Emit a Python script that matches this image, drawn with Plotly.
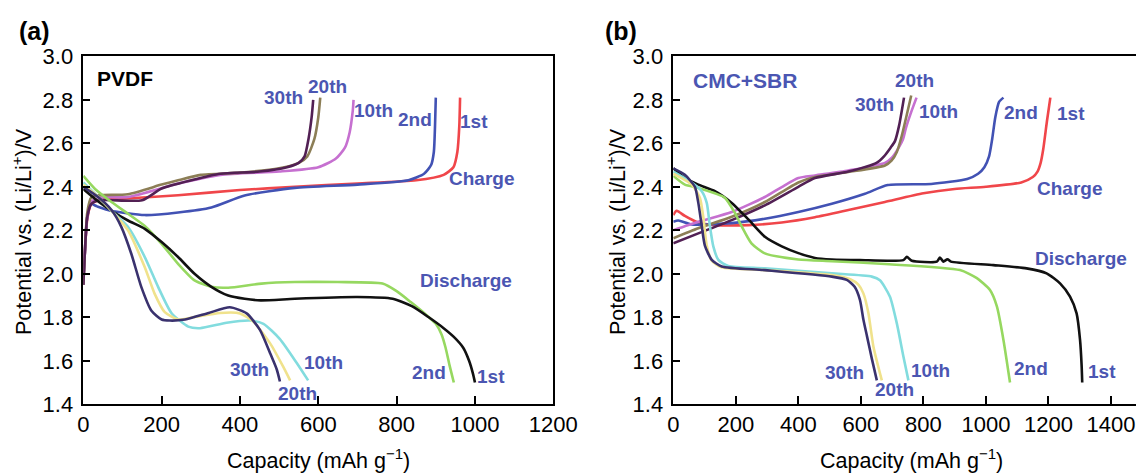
import plotly.graph_objects as go

# ---------------- Panel (a) PVDF : charge curves ----------------
a_c1_cap = [0, 4, 10, 20, 40, 100, 242, 400, 540, 700, 850, 920, 945, 955, 960, 962]
a_c1_v   = [1.95, 2.10, 2.25, 2.32, 2.338, 2.345, 2.361, 2.385, 2.40, 2.415, 2.43, 2.455, 2.49, 2.56, 2.68, 2.81]
a_c2_cap = [0, 4, 10, 20, 35, 70, 157, 242, 327, 412, 540, 700, 830, 870, 888, 895, 898, 900]
a_c2_v   = [1.95, 2.10, 2.26, 2.32, 2.31, 2.29, 2.27, 2.282, 2.305, 2.36, 2.395, 2.41, 2.43, 2.46, 2.50, 2.56, 2.68, 2.81]
a_c10_cap = [0, 4, 10, 20, 40, 114, 242, 350, 500, 600, 645, 668, 680, 688, 690]
a_c10_v   = [1.95, 2.10, 2.26, 2.33, 2.35, 2.353, 2.415, 2.455, 2.47, 2.49, 2.53, 2.58, 2.65, 2.75, 2.80]
a_c20_cap = [0, 4, 10, 20, 40, 114, 200, 242, 300, 400, 500, 550, 572, 590, 600, 605]
a_c20_v   = [1.95, 2.10, 2.28, 2.35, 2.361, 2.366, 2.41, 2.43, 2.455, 2.465, 2.485, 2.51, 2.54, 2.62, 2.72, 2.81]
a_c30_cap = [0, 4, 10, 20, 40, 150, 200, 276, 350, 450, 520, 550, 565, 575, 583, 587]
a_c30_v   = [1.95, 2.10, 2.26, 2.32, 2.338, 2.338, 2.392, 2.43, 2.46, 2.47, 2.49, 2.51, 2.54, 2.62, 2.72, 2.80]

# ---------------- Panel (a) PVDF : discharge curves ----------------
a_d1_cap = [0, 40, 72, 114, 157, 200, 242, 284, 327, 370, 412, 453, 540, 700, 790, 840, 882, 920, 946, 970, 985, 995, 1000]
a_d1_v   = [2.39, 2.33, 2.29, 2.245, 2.207, 2.146, 2.077, 2.0, 1.94, 1.90, 1.885, 1.878, 1.885, 1.893, 1.885, 1.85, 1.80, 1.75, 1.71, 1.66, 1.60, 1.54, 1.50]
a_d2_cap = [0, 30, 72, 114, 157, 200, 242, 284, 327, 370, 455, 540, 650, 764, 800, 836, 870, 900, 915, 925, 935, 946]
a_d2_v   = [2.45, 2.39, 2.33, 2.276, 2.22, 2.138, 2.046, 1.97, 1.94, 1.936, 1.955, 1.962, 1.962, 1.955, 1.92, 1.87, 1.82, 1.77, 1.72, 1.66, 1.58, 1.50]
a_d10_cap = [0, 40, 72, 114, 157, 191, 225, 268, 298, 366, 426, 460, 502, 545, 574]
a_d10_v   = [2.42, 2.35, 2.29, 2.216, 2.077, 1.94, 1.82, 1.757, 1.75, 1.775, 1.785, 1.77, 1.70, 1.59, 1.51]
a_d20_cap = [0, 40, 72, 114, 157, 182, 208, 242, 281, 349, 400, 434, 477, 510, 528]
a_d20_v   = [2.41, 2.35, 2.29, 2.20, 2.03, 1.909, 1.824, 1.79, 1.80, 1.82, 1.818, 1.78, 1.68, 1.574, 1.51]
a_d30_cap = [0, 37, 72, 97, 123, 148, 174, 200, 221, 260, 320, 374, 417, 451, 477, 494, 502]
a_d30_v   = [2.40, 2.354, 2.293, 2.216, 2.09, 1.94, 1.83, 1.79, 1.785, 1.79, 1.82, 1.846, 1.818, 1.742, 1.635, 1.56, 1.505]

# ---------------- Panel (b) CMC+SBR : charge curves ----------------
b_c1_cap = [0, 10, 20, 37, 80, 133, 240, 347, 453, 560, 677, 800, 900, 1000, 1113, 1150, 1165, 1175, 1183, 1195, 1206]
b_c1_v   = [2.27, 2.29, 2.283, 2.266, 2.236, 2.224, 2.224, 2.236, 2.26, 2.293, 2.33, 2.37, 2.39, 2.40, 2.42, 2.445, 2.47, 2.51, 2.57, 2.70, 2.81]
b_c2_cap = [0, 16, 59, 187, 293, 400, 507, 613, 686, 825, 940, 975, 995, 1010, 1020, 1030, 1042, 1056]
b_c2_v   = [2.239, 2.245, 2.227, 2.233, 2.253, 2.284, 2.322, 2.368, 2.408, 2.413, 2.436, 2.46, 2.49, 2.54, 2.62, 2.72, 2.79, 2.81]
b_c10_cap = [0, 80, 187, 293, 347, 400, 453, 560, 677, 700, 721, 735, 744, 760, 778]
b_c10_v   = [2.20, 2.239, 2.284, 2.353, 2.399, 2.44, 2.452, 2.475, 2.51, 2.535, 2.58, 2.62, 2.67, 2.74, 2.81]
b_c20_cap = [0, 80, 187, 293, 400, 453, 560, 677, 698, 715, 730, 745, 761]
b_c20_v   = [2.163, 2.209, 2.262, 2.33, 2.42, 2.445, 2.468, 2.498, 2.52, 2.56, 2.63, 2.72, 2.82]
b_c30_cap = [0, 80, 187, 293, 400, 453, 560, 650, 674, 695, 709, 722, 738]
b_c30_v   = [2.14, 2.186, 2.247, 2.315, 2.40, 2.44, 2.47, 2.51, 2.54, 2.58, 2.61, 2.68, 2.81]

# ---------------- Panel (b) CMC+SBR : discharge curves ----------------
b_d1_cap = [0, 37, 80, 133, 187, 240, 293, 347, 400, 453, 507, 597, 736, 747, 763, 843, 853, 864, 877, 888, 1024, 1130, 1194, 1237, 1269, 1290, 1301, 1306, 1308]
b_d1_v   = [2.485, 2.44, 2.41, 2.38, 2.326, 2.25, 2.17, 2.126, 2.095, 2.073, 2.066, 2.063, 2.063, 2.078, 2.06, 2.056, 2.075, 2.056, 2.067, 2.056, 2.04, 2.025, 2.002, 1.956, 1.895, 1.818, 1.696, 1.58, 1.50]
b_d2_cap = [0, 37, 80, 133, 165, 197, 218, 250, 293, 400, 507, 677, 917, 971, 1013, 1035, 1056, 1077]
b_d2_v   = [2.45, 2.41, 2.395, 2.37, 2.35, 2.28, 2.22, 2.14, 2.094, 2.066, 2.058, 2.045, 2.017, 1.98, 1.925, 1.85, 1.696, 1.50]
b_d10_cap = [0, 59, 91, 107, 117, 128, 144, 176, 293, 507, 635, 661, 693, 715, 736, 752]
b_d10_v   = [2.47, 2.42, 2.38, 2.326, 2.22, 2.126, 2.064, 2.036, 2.025, 2.002, 1.987, 1.97, 1.895, 1.772, 1.62, 1.51]
b_d20_cap = [0, 59, 85, 96, 107, 123, 155, 293, 507, 566, 592, 608, 624, 640, 667]
b_d20_v   = [2.46, 2.41, 2.35, 2.26, 2.13, 2.06, 2.03, 2.017, 1.994, 1.975, 1.95, 1.91, 1.82, 1.666, 1.51]
b_d30_cap = [0, 37, 69, 80, 91, 101, 123, 155, 293, 507, 555, 580, 597, 608, 620, 635, 651]
b_d30_v   = [2.485, 2.455, 2.40, 2.326, 2.22, 2.13, 2.064, 2.034, 2.017, 1.987, 1.972, 1.94, 1.88, 1.79, 1.71, 1.61, 1.51]

# ---------------- ticks ----------------
a_xticks = [0, 200, 400, 600, 800, 1000, 1200]
b_xticks = [0, 200, 400, 600, 800, 1000, 1200, 1400]
yticks = [1.4, 1.6, 1.8, 2.0, 2.2, 2.4, 2.6, 2.8, 3.0]

# ---------------- curve labels (text, cap, V) ----------------
a_labels = [("30th", 512, 2.81), ("20th", 623, 2.86), ("10th", 742, 2.75), ("2nd", 847, 2.71),
            ("1st", 997, 2.70), ("Charge", 1016, 2.44), ("Discharge", 978, 1.971),
            ("30th", 424, 1.56), ("10th", 614, 1.593), ("20th", 548, 1.45),
            ("2nd", 882, 1.545), ("1st", 1041, 1.53)]
b_labels = [("20th", 770, 2.89), ("30th", 645, 2.78), ("10th", 848, 2.745), ("2nd", 1113, 2.74),
            ("1st", 1272, 2.735), ("Charge", 1267, 2.39), ("Discharge", 1305, 2.071),
            ("30th", 546, 1.545), ("20th", 707, 1.466), ("10th", 824, 1.556),
            ("2nd", 1143, 1.565), ("1st", 1372, 1.55)]

FONT = "Liberation Sans, Arial, sans-serif"
LBL = "rgb(75,86,178)"
COL = {
    "c1": "rgb(240,70,74)", "c2": "rgb(66,82,180)", "c10": "rgb(198,112,208)",
    "c20": "rgb(140,126,86)", "c30": "rgb(82,32,84)",
    "d1": "rgb(17,17,17)", "d2": "rgb(150,216,96)", "d10": "rgb(130,220,222)",
    "d20": "rgb(240,226,140)", "d30": "rgb(58,50,110)",
}

fig = go.Figure()

def add(cap, v, key, xa, ya):
    fig.add_trace(go.Scatter(x=cap, y=v, mode="lines", xaxis=xa, yaxis=ya,
                             line=dict(color=COL[key], width=2.6, shape="spline", smoothing=0.6),
                             showlegend=False, hoverinfo="skip"))

for cap, v, k in [(a_c1_cap, a_c1_v, "c1"), (a_c2_cap, a_c2_v, "c2"), (a_c10_cap, a_c10_v, "c10"),
                  (a_c20_cap, a_c20_v, "c20"), (a_c30_cap, a_c30_v, "c30"),
                  (a_d2_cap, a_d2_v, "d2"), (a_d1_cap, a_d1_v, "d1"), (a_d10_cap, a_d10_v, "d10"),
                  (a_d20_cap, a_d20_v, "d20"), (a_d30_cap, a_d30_v, "d30")]:
    add(cap, v, k, "x", "y")

for cap, v, k in [(b_c1_cap, b_c1_v, "c1"), (b_c2_cap, b_c2_v, "c2"), (b_c10_cap, b_c10_v, "c10"),
                  (b_c20_cap, b_c20_v, "c20"), (b_c30_cap, b_c30_v, "c30"),
                  (b_d1_cap, b_d1_v, "d1"), (b_d2_cap, b_d2_v, "d2"), (b_d10_cap, b_d10_v, "d10"),
                  (b_d20_cap, b_d20_v, "d20"), (b_d30_cap, b_d30_v, "d30")]:
    add(cap, v, k, "x2", "y2")

W, H = 1136, 473
ax_common = dict(showline=True, linecolor="black", linewidth=1.5, mirror=True, showgrid=False,
                 zeroline=False, ticks="inside", tickcolor="black", tickwidth=1.5, automargin=False,
                 tickfont=dict(family=FONT, size=22, color="black"))
ydom = [1 - 404.3 / H, 1 - 56.3 / H]

fig.update_layout(
    width=W, height=H, margin=dict(l=0, r=0, t=0, b=0, autoexpand=False),
    paper_bgcolor="white", plot_bgcolor="white",
    xaxis=dict(domain=[83.3 / W, 553.3 / W], range=[0, 1200], tickvals=a_xticks, ticklen=9,
               anchor="y", **ax_common),
    yaxis=dict(domain=ydom, range=[1.4, 3.0], tickvals=yticks, tickformat=".1f", ticklen=7,
               ticklabelstandoff=4, anchor="x", **ax_common),
    xaxis2=dict(domain=[673.3 / W, 1.0], range=[0, 1480], tickvals=b_xticks, ticklen=9,
                anchor="y2", **ax_common),
    yaxis2=dict(domain=ydom, range=[1.4, 3.0], tickvals=yticks, tickformat=".1f", ticklen=7,
                ticklabelstandoff=4, anchor="x2", **ax_common),
)

def note(**kw):
    base = dict(showarrow=False, xanchor="center", yanchor="middle")
    base.update(kw)
    return base

ann = []
for txt, cx, cv in a_labels:
    ann.append(note(x=cx, y=cv, xref="x", yref="y", text="<b>%s</b>" % txt,
                    font=dict(family=FONT, size=19, color=LBL)))
for txt, cx, cv in b_labels:
    ann.append(note(x=cx, y=cv, xref="x2", yref="y2", text="<b>%s</b>" % txt,
                    font=dict(family=FONT, size=19, color=LBL)))

ann.append(note(x=29, y=2.896, xref="x", yref="y", xanchor="left", text="<b>PVDF</b>",
                font=dict(family=FONT, size=21, color="black")))
ann.append(note(x=57, y=2.89, xref="x2", yref="y2", xanchor="left", text="<b>CMC+SBR</b>",
                font=dict(family=FONT, size=21, color=LBL)))

ann.append(note(x=34 / W, y=1 - 31 / H, xref="paper", yref="paper", text="<b>(a)</b>",
                font=dict(family=FONT, size=25, color="black")))
ann.append(note(x=621 / W, y=1 - 31 / H, xref="paper", yref="paper", text="<b>(b)</b>",
                font=dict(family=FONT, size=25, color="black")))

ytitle = "Potential vs. (Li/Li<sup>+</sup>)/V"
xtitle = "Capacity (mAh g<sup>\u22121</sup>)"
for xc in (22, 616):
    ann.append(note(x=xc / W, y=1 - 232 / H, xref="paper", yref="paper", text=ytitle, textangle=-90,
                    font=dict(family=FONT, size=21.5, color="black")))
for xc in (318, 911):
    ann.append(note(x=xc / W, y=1 - 459 / H, xref="paper", yref="paper", text=xtitle,
                    font=dict(family=FONT, size=21.5, color="black")))

fig.update_layout(annotations=ann)
fig.write_html("out.html", config={"displayModeBar": False},
               post_script="document.body.style.margin='0px';document.body.style.overflow='hidden';")
